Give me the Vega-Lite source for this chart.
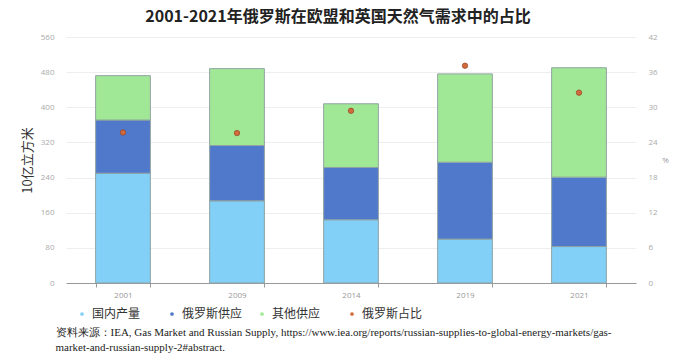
{
  "$schema": "https://vega.github.io/schema/vega-lite/v6.json",
  "width": 570,
  "height": 246,
  "autosize": {"type": "none"},
  "padding": {"left": 66, "top": 37, "right": 44, "bottom": 74},
  "background": "white",
  "title": {
    "text": "2001-2021年俄罗斯在欧盟和英国天然气需求中的占比",
    "font": "Noto Sans CJK SC",
    "fontSize": 16,
    "fontWeight": "bold",
    "color": "#222222",
    "anchor": "middle",
    "offset": 8,
    "dx": -13
  },
  "config": {"view": {"stroke": null}},
  "datasets": {
    "supply": [
      {"year": "2001", "type": "国内产量", "idx": 1, "value": 250},
      {"year": "2001", "type": "俄罗斯供应", "idx": 2, "value": 121},
      {"year": "2001", "type": "其他供应", "idx": 3, "value": 101},
      {"year": "2009", "type": "国内产量", "idx": 1, "value": 187},
      {"year": "2009", "type": "俄罗斯供应", "idx": 2, "value": 126},
      {"year": "2009", "type": "其他供应", "idx": 3, "value": 175},
      {"year": "2014", "type": "国内产量", "idx": 1, "value": 144},
      {"year": "2014", "type": "俄罗斯供应", "idx": 2, "value": 119},
      {"year": "2014", "type": "其他供应", "idx": 3, "value": 145},
      {"year": "2019", "type": "国内产量", "idx": 1, "value": 100},
      {"year": "2019", "type": "俄罗斯供应", "idx": 2, "value": 175},
      {"year": "2019", "type": "其他供应", "idx": 3, "value": 201},
      {"year": "2021", "type": "国内产量", "idx": 1, "value": 83},
      {"year": "2021", "type": "俄罗斯供应", "idx": 2, "value": 158},
      {"year": "2021", "type": "其他供应", "idx": 3, "value": 249}
    ],
    "share": [
      {"year": "2001", "share": 25.7},
      {"year": "2009", "share": 25.6},
      {"year": "2014", "share": 29.4},
      {"year": "2019", "share": 37.1},
      {"year": "2021", "share": 32.5}
    ]
  },
  "layer": [
    {
      "data": {"name": "supply"},
      "mark": {"type": "bar", "stroke": "#8fa3a3", "strokeWidth": 1},
      "encoding": {
        "x": {
          "field": "year",
          "type": "nominal",
          "scale": {"paddingInner": 0.52, "paddingOuter": 0.26},
          "axis": {
            "labelAngle": 0,
            "labelColor": "#999999",
            "labelFont": "Open Sans",
            "labelFontSize": 8,
            "labelPadding": 4,
            "domainColor": "#999999",
            "tickColor": "#999999",
            "tickBand": "extent",
            "tickSize": 4,
            "grid": false,
            "title": ["资料来源：IEA, Gas Market and Russian Supply, https://www.iea.org/reports/russian-supplies-to-global-energy-markets/gas-", "market-and-russian-supply-2#abstract."],
            "titleFont": "Liberation Serif",
            "titleFontSize": 11,
            "titleFontWeight": "normal",
            "titleColor": "#222222",
            "titleAnchor": "start",
            "titleAlign": "left",
            "titleBaseline": "top",
            "titleX": -11,
            "titleY": 43,
            "titleLineHeight": 15
          }
        },
        "y": {
          "field": "value",
          "type": "quantitative",
          "stack": "zero",
          "scale": {"domain": [0, 560]},
          "axis": {
            "values": [0, 80, 160, 240, 320, 400, 480, 560],
            "grid": true,
            "gridColor": "#eeeeee",
            "domain": false,
            "ticks": false,
            "labelColor": "#aaaaaa",
            "labelFont": "Open Sans",
            "labelFontSize": 8,
            "labelPadding": 12,
            "title": "10亿立方米",
            "titleFont": "Noto Sans CJK SC",
            "titleFontSize": 13,
            "titleFontWeight": "normal",
            "titleColor": "#333333",
            "titlePadding": 6
          }
        },
        "color": {
          "field": "type",
          "type": "nominal",
          "scale": {
            "domain": ["国内产量", "俄罗斯供应", "其他供应", "俄罗斯占比"],
            "range": ["#82CFF8", "#5079CB", "#A0E896", "#D26A3C"]
          },
          "legend": {
            "orient": "none",
            "direction": "horizontal",
            "legendX": 10,
            "legendY": 271,
            "title": null,
            "symbolType": "circle",
            "symbolSize": 14,
            "symbolStrokeWidth": 0,
            "labelFont": "Noto Sans CJK SC",
            "labelFontSize": 12,
            "labelColor": "#333333",
            "gridAlign": "all",
            "columnPadding": 13
          }
        },
        "order": {"field": "idx", "type": "quantitative"}
      }
    },
    {
      "data": {"name": "share"},
      "mark": {"type": "point", "filled": true, "size": 30, "stroke": "#8a3b1c", "strokeWidth": 0.6, "opacity": 1},
      "encoding": {
        "x": {"field": "year", "type": "nominal"},
        "y": {
          "field": "share",
          "type": "quantitative",
          "scale": {"domain": [0, 42]},
          "axis": {
            "orient": "right",
            "values": [0, 6, 12, 18, 24, 30, 36, 42],
            "grid": false,
            "domain": false,
            "ticks": false,
            "labelColor": "#aaaaaa",
            "labelFont": "Open Sans",
            "labelFontSize": 8,
            "labelPadding": 12,
            "title": "%",
            "titleAngle": 0,
            "titleFont": "Open Sans",
            "titleFontSize": 8,
            "titleFontWeight": "normal",
            "titleColor": "#999999",
            "titlePadding": 8,
            "titleBaseline": "middle"
          }
        },
        "color": {"datum": "俄罗斯占比"}
      }
    }
  ],
  "resolve": {"scale": {"y": "independent"}}
}
